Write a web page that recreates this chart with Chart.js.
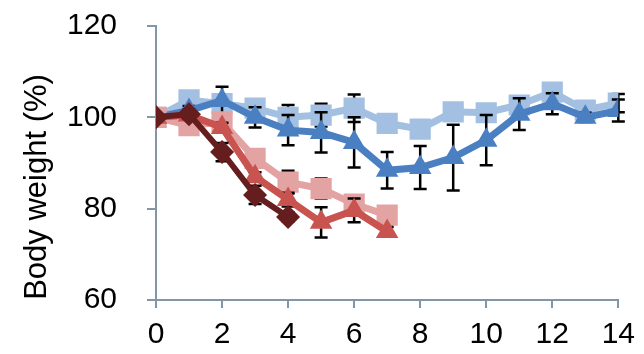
<!DOCTYPE html>
<html>
<head>
<meta charset="utf-8">
<script src="https://cdn.jsdelivr.net/npm/chart.js@4.4.1/dist/chart.umd.min.js"></script>
<style>
  html, body { margin: 0; padding: 0; background: #ffffff; }
  #wrap { width: 644px; height: 354px; position: relative; }
</style>
</head>
<body>
<div id="wrap"><canvas id="c" width="644" height="354"></canvas></div>
<script>
// Days after infection
const days = [0, 1, 2, 3, 4, 5, 6, 7, 8, 9, 10, 11, 12, 13, 14];
const xTicks = [0, 2, 4, 6, 8, 10, 12, 14];
const yTicks = [60, 80, 100, 120];

// Mean body weight (% of day 0) and error per group
const lightBlueMean = [100, 103.8, 103, 102, 100, 100.5, 102, 98.7, 97.4, 101.2, 101, 102.7, 105.5, 101.6, 103.1];
const lightBlueErr  = [0, 1.6, 1, 1, 2.7, 2.5, 3, 1, 1, 1, 1, 1, 1, 1, 2];
const blueMean      = [100, 101.5, 103.7, 100, 97.2, 96.7, 94.5, 88.4, 89, 91.2, 95, 100.7, 103, 100, 101.5];
const blueErr       = [0, 1, 3, 2.2, 3.3, 4.4, 5.5, 4, 4.7, 7.2, 5.5, 3.5, 2.3, 1, 2.4];
const pinkMean      = [100, 98.2, 99, 91, 85.8, 84.4, 81, 78.6];
const pinkErr       = [0, 1, 1, 1, 2.5, 2.2, 1, 1];
const redMean       = [100, 100.5, 97.8, 87, 82, 77, 79.6, 75];
const redErr        = [0, 1, 1, 1, 1.5, 3.3, 2.6, 1];
const darkMean      = [100, 100.7, 92.4, 83, 78.2];
const darkErr       = [0, 1, 2, 2, 1];

const AXIS = '#8197a8';
const FONT = "'Liberation Sans', Arial, sans-serif";

function pts(vals) { return vals.map((v, i) => ({ x: days[i], y: v })); }

function series(label, vals, err, color, style, radius, width) {
  return {
    label, data: pts(vals), errors: err,
    borderColor: color, backgroundColor: color,
    pointBackgroundColor: color, pointBorderColor: color,
    pointStyle: style, pointRadius: radius, pointHoverRadius: radius,
    pointBorderWidth: 0, borderWidth: width, tension: 0, fill: false
  };
}

// Error bars are painted just before their own dataset, so markers sit on top
const errorBars = {
  id: 'errorBars',
  beforeDatasetDraw(chart, args) {
    const ds = chart.data.datasets[args.index];
    if (!ds.errors) return;
    const { ctx, scales: { x, y } } = chart;
    ctx.save();
    ctx.strokeStyle = '#000000';
    ctx.lineWidth = 2.5;
    ds.data.forEach((p, i) => {
      const e = ds.errors[i];
      if (!e) return;
      const px = x.getPixelForValue(p.x);
      const top = y.getPixelForValue(p.y + e);
      const bot = y.getPixelForValue(p.y - e);
      ctx.beginPath();
      ctx.moveTo(px, top); ctx.lineTo(px, bot);
      ctx.moveTo(px - 6.5, top); ctx.lineTo(px + 6.5, top);
      ctx.moveTo(px - 6.5, bot); ctx.lineTo(px + 6.5, bot);
      ctx.stroke();
    });
    ctx.restore();
  }
};

// Rotated y-axis caption
const yCaption = {
  id: 'yCaption',
  afterDraw(chart) {
    const { ctx } = chart;
    ctx.save();
    ctx.translate(37, 187);
    ctx.rotate(-Math.PI / 2);
    ctx.font = '31px ' + FONT;
    ctx.fillStyle = '#000000';
    ctx.textAlign = 'center';
    ctx.textBaseline = 'middle';
    ctx.fillText('Body weight (%)', 0, 0);
    ctx.restore();
  }
};

new Chart(document.getElementById('c'), {
  type: 'line',
  data: {
    datasets: [
      series('Group E', darkMean, darkErr, '#661d1e', 'rectRot', 12, 6),
      series('Group D', redMean, redErr, '#c8534f', 'triangle', 13, 7),
      series('Group C', pinkMean, pinkErr, '#e4a3a3', 'rect', 15, 7),
      series('Group B', blueMean, blueErr, '#4a7fc1', 'triangle', 13, 7),
      series('Group A', lightBlueMean, lightBlueErr, '#a3c0e2', 'rect', 15, 7)
    ]
  },
  options: {
    responsive: false,
    animation: false,
    layout: { padding: { left: 0, right: 21, top: 26, bottom: 0 } },
    plugins: { legend: { display: false }, tooltip: { enabled: false } },
    scales: {
      x: {
        type: 'linear', min: 0, max: 14,
        afterBuildTicks(s) { s.ticks = xTicks.map(v => ({ value: v })); },
        afterFit(s) { s.height = 54; },
        border: { display: true, color: AXIS, width: 2 },
        grid: { display: true, drawOnChartArea: false, drawTicks: true, tickLength: 8, color: AXIS, lineWidth: 2 },
        ticks: { color: '#000000', padding: 9, maxRotation: 0, font: { family: FONT, size: 30 } }
      },
      y: {
        type: 'linear', min: 60, max: 120,
        afterBuildTicks(s) { s.ticks = yTicks.map(v => ({ value: v })); },
        afterFit(s) { s.width = 156; s.paddingTop = 0; s.paddingBottom = 0; },
        border: { display: true, color: AXIS, width: 2 },
        grid: { display: true, drawOnChartArea: false, drawTicks: true, tickLength: 9, color: AXIS, lineWidth: 2 },
        ticks: { color: '#000000', padding: 30, font: { family: FONT, size: 30 } }
      }
    }
  },
  plugins: [errorBars, yCaption]
});
</script>
</body>
</html>
